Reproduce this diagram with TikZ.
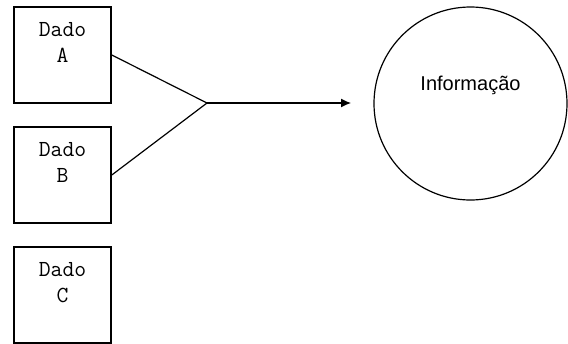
\documentclass[tikz,border=0pt]{standalone}
\usepackage{fontspec}
\setmainfont{Liberation Sans}
\usetikzlibrary{arrows.meta,positioning}

\begin{document}
\begin{tikzpicture}[x=1pt,y=-1pt,
  dado/.style={draw,line width=1.6pt,minimum width=97pt,minimum height=96pt,inner sep=0pt},
  rotulo/.style={font=\ttfamily\fontsize{23}{26}\selectfont,align=center,inner sep=0pt},
  liga/.style={line width=1.2pt}
]
  \useasboundingbox (0,0) rectangle (568,343);
  % os tres dados
  \node[dado] (dadoA) at (62.5,55) {};
  \node[dado] (dadoB) at (62.5,175) {};
  \node[dado] (dadoC) at (62.5,295) {};
  \node[rotulo,below=16pt of dadoA.north] (txtA) {Dado\\A};
  \node[rotulo,below=16pt of dadoB.north] (txtB) {Dado\\B};
  \node[rotulo,below=16pt of dadoC.north] (txtC) {Dado\\C};
  % informacao
  \node[circle,draw,line width=1.2pt,minimum size=193pt,inner sep=0pt] (info) at (470.5,103.5) {};
  \node[font=\fontsize{20}{24}\selectfont,inner sep=0pt,above=9pt of info.center] (txtInfo) {Informação};
  \coordinate (juncao) at (207,103);
  \coordinate (ponta) at (351,103);
  \draw[liga] (dadoA.east) -- (juncao);
  \draw[liga] (dadoB.east) -- (juncao);
  \draw[liga,-{Latex[length=10pt,width=9pt]}] (juncao) -- (ponta);
\end{tikzpicture}
\end{document}
